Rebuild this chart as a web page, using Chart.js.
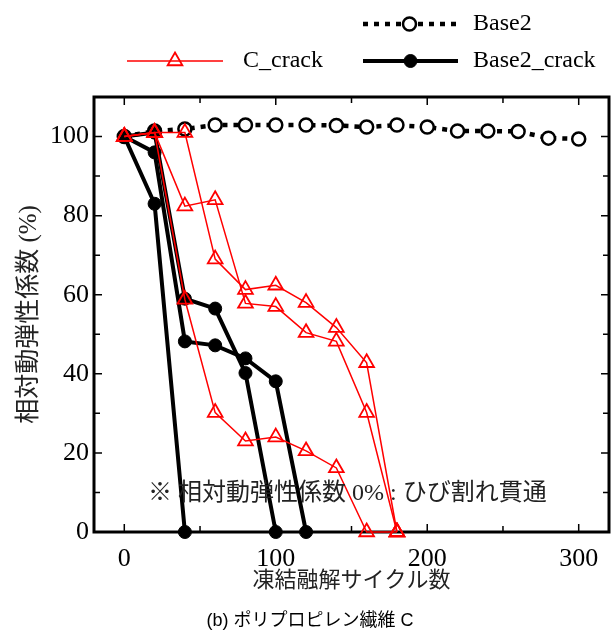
<!DOCTYPE html>
<html>
<head>
<meta charset="utf-8">
<script src="https://cdn.jsdelivr.net/npm/chart.js@4"></script>
<style>
  html, body { margin: 0; padding: 0; background: #fff; }
  canvas { display: block; }
</style>
</head>
<body>
<canvas id="ratioChart" width="612" height="639"></canvas>
<script>
// 凍結融解サイクル (x)
var cycles = [0, 20, 40, 60, 80, 100, 120, 140, 160, 180, 200, 220, 240, 260, 280, 300];

// 相対動弾性係数 (%) - 値は cycles の先頭から順に対応
var base2 = [100, 101.4, 101.9, 102.9, 102.9, 102.9, 102.9, 102.8, 102.4, 102.9, 102.4, 101.4, 101.4, 101.3, 99.6, 99.4];
var base2CrackA = [100, 101, 59, 56.5, 40.2, 0];
var base2CrackB = [100, 96, 48.2, 47.2, 43.9, 38.1, 0];
var base2CrackC = [100, 83, 0];
var cCrackA = [100, 101, 101, 69, 61.3, 62.4, 58, 51.7, 42.8, 0];
var cCrackB = [100, 101, 82.4, 84, 57.8, 57, 50.4, 48.2, 30.2, 0];
var cCrackC = [100, 101, 58.8, 30.2, 23, 24, 20.5, 16.2, 0, 0];

// 目盛
var xTicks = [0, 100, 200, 300];
var xMinorTicks = [50, 150, 250];
var yTicks = [0, 20, 40, 60, 80, 100];
var yMinorTicks = [10, 30, 50, 70, 90];

var serif = '"Liberation Serif", "Noto Sans CJK JP", serif';
var textColor = '#222';

function pts(vals) {
  return vals.map(function (v, i) { return { x: cycles[i], y: v }; });
}

function redSet(vals, label) {
  return {
    label: label, data: pts(vals), borderColor: '#ff0000', borderWidth: 1.5,
    pointStyle: 'triangle', pointRadius: 8.5, pointBorderWidth: 1.8,
    pointBorderColor: '#ff0000', pointBackgroundColor: 'rgba(255,255,255,0)', clip: false
  };
}
function blackSet(vals, label) {
  return {
    label: label, data: pts(vals), borderColor: '#000', borderWidth: 4,
    pointStyle: 'circle', pointRadius: 6.5, pointBorderWidth: 1,
    pointBorderColor: '#000', pointBackgroundColor: '#000', clip: false
  };
}

// 枠と内向きの目盛
var frameTicks = {
  id: 'frameTicks',
  beforeDatasetsDraw: function (chart) {
    var ctx = chart.ctx, a = chart.chartArea, sx = chart.scales.x, sy = chart.scales.y;
    ctx.save();
    ctx.strokeStyle = '#000';
    ctx.lineWidth = 1.5;
    ctx.beginPath();
    function xt(v, len) {
      var p = sx.getPixelForValue(v);
      ctx.moveTo(p, a.bottom); ctx.lineTo(p, a.bottom - len);
      ctx.moveTo(p, a.top); ctx.lineTo(p, a.top + len);
    }
    function yt(v, len) {
      var p = sy.getPixelForValue(v);
      ctx.moveTo(a.left, p); ctx.lineTo(a.left + len, p);
      ctx.moveTo(a.right, p); ctx.lineTo(a.right - len, p);
    }
    xTicks.forEach(function (v) { xt(v, 8); });
    xMinorTicks.forEach(function (v) { xt(v, 6); });
    yTicks.forEach(function (v) { yt(v, 8); });
    yMinorTicks.forEach(function (v) { yt(v, 6); });
    ctx.stroke();
    ctx.lineWidth = 3;
    ctx.strokeRect(a.left, a.top, a.right - a.left, a.bottom - a.top);
    ctx.restore();
  }
};

// 凡例・注記・キャプション
var extras = {
  id: 'extras',
  afterDraw: function (chart) {
    var ctx = chart.ctx;
    var ds = chart.data.datasets;
    ctx.save();

    function sample(d, x1, x2, y, text, tx) {
      ctx.save();
      ctx.strokeStyle = d.borderColor;
      ctx.lineWidth = d.borderWidth;
      ctx.setLineDash(d.borderDash || []);
      ctx.beginPath(); ctx.moveTo(x1, y); ctx.lineTo(x2, y); ctx.stroke();
      ctx.setLineDash([]);
      var cx = (x1 + x2) / 2, r = d.pointRadius;
      ctx.fillStyle = d.pointBackgroundColor;
      ctx.strokeStyle = d.pointBorderColor;
      ctx.lineWidth = d.pointBorderWidth;
      ctx.beginPath();
      if (d.pointStyle === 'triangle') {
        for (var k = 0; k < 3; k++) {
          var ang = k * 2 * Math.PI / 3;
          var px = cx + Math.sin(ang) * r, py = y - Math.cos(ang) * r;
          if (k === 0) ctx.moveTo(px, py); else ctx.lineTo(px, py);
        }
        ctx.closePath();
      } else {
        ctx.arc(cx, y, r, 0, Math.PI * 2);
      }
      ctx.fill(); ctx.stroke();
      ctx.restore();
      ctx.fillStyle = '#000';
      ctx.font = '24px ' + serif;
      ctx.textBaseline = 'middle';
      ctx.textAlign = 'left';
      ctx.fillText(text, tx, y);
    }
    sample(ds[6], 363, 456, 24, 'Base2', 473);
    sample(ds[0], 127, 223, 61, 'C_crack', 243);
    sample(ds[3], 363, 458, 61, 'Base2_crack', 473);

    ctx.fillStyle = textColor;
    ctx.font = '24px ' + serif;
    ctx.textAlign = 'left';
    ctx.textBaseline = 'middle';
    ctx.fillText('※ 相対動弾性係数 0% : ひび割れ貫通', 148, 494);

    ctx.fillStyle = '#000';
    ctx.font = '18px "Liberation Sans", "Noto Sans CJK JP", sans-serif';
    ctx.textAlign = 'center';
    ctx.fillText('(b) ポリプロピレン繊維 C', 310, 621);
    ctx.restore();
  }
};

new Chart(document.getElementById('ratioChart').getContext('2d'), {
  type: 'line',
  data: {
    datasets: [
      redSet(cCrackA, 'C_crack'),
      redSet(cCrackB, 'C_crack'),
      redSet(cCrackC, 'C_crack'),
      blackSet(base2CrackA, 'Base2_crack'),
      blackSet(base2CrackB, 'Base2_crack'),
      blackSet(base2CrackC, 'Base2_crack'),
      {
        label: 'Base2', data: pts(base2), borderColor: '#000', borderWidth: 4.5,
        borderDash: [5, 6], pointStyle: 'circle', pointRadius: 6.5, pointBorderWidth: 2.5,
        pointBorderColor: '#000', pointBackgroundColor: '#fff', clip: false
      }
    ]
  },
  options: {
    responsive: false,
    animation: false,
    devicePixelRatio: 1,
    layout: { autoPadding: false, padding: { top: 97, right: 3, left: 0, bottom: 39 } },
    plugins: { legend: { display: false }, tooltip: { enabled: false } },
    scales: {
      x: {
        type: 'linear', min: -20, max: 320,
        afterBuildTicks: function (s) { s.ticks = xTicks.map(function (v) { return { value: v }; }); },
        afterFit: function (s) { s.height = 68; s.paddingLeft = 0; s.paddingRight = 0; },
        grid: { display: false, drawTicks: false },
        border: { display: false },
        ticks: { color: '#000', font: { family: serif, size: 26 }, padding: 12, maxRotation: 0 },
        title: { display: true, text: '凍結融解サイクル数', color: textColor, font: { family: serif, size: 22 }, padding: 6 }
      },
      y: {
        min: 0, max: 110,
        afterBuildTicks: function (s) { s.ticks = yTicks.map(function (v) { return { value: v }; }); },
        afterFit: function (s) { s.width = 94; s.paddingTop = 0; s.paddingBottom = 0; },
        grid: { display: false, drawTicks: false },
        border: { display: false },
        ticks: { color: '#000', font: { family: serif, size: 26 }, padding: 5 },
        title: { display: true, text: '相対動弾性係数 (%)', color: textColor, font: { family: serif, size: 25 }, padding: 14 }
      }
    }
  },
  plugins: [frameTicks, extras]
});
</script>
</body>
</html>
